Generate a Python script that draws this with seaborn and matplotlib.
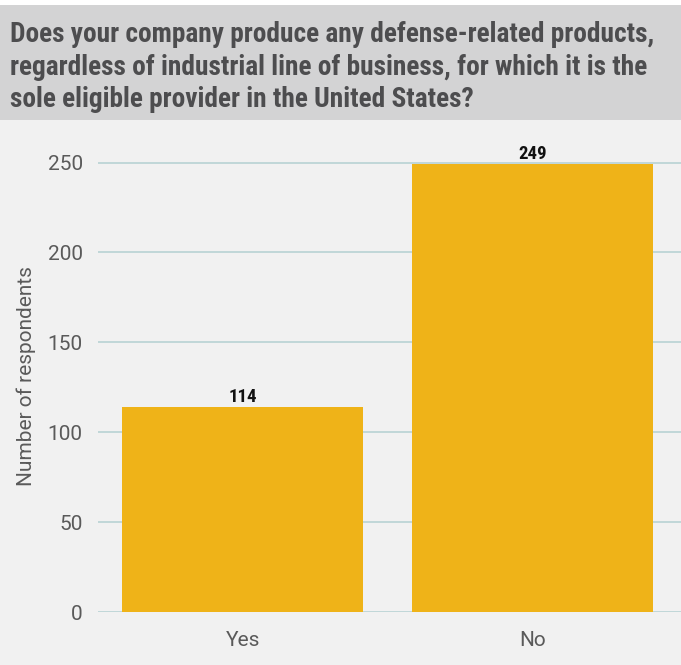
import matplotlib
matplotlib.use("Agg")
import matplotlib.pyplot as plt
import matplotlib.patches as mpatches
import seaborn as sns
import pandas as pd

# Survey responses
answers = ["Yes", "No"]
respondents = [114, 249]
y_ticks = [0, 50, 100, 150, 200, 250]
question = ("Does your company produce any defense-related products,\n"
            "regardless of industrial line of business, for which it is the\n"
            "sole eligible provider in the United States?")

bg = "#f1f1f1"
band = "#d3d3d4"
bar_color = "#efb318"
grid_color = "#bcd5d6"
text_color = "#5a5a5a"
condensed = ["Roboto Condensed", "DejaVu Sans"]
body = ["Roboto", "DejaVu Sans"]

sns.set_theme(style="white")
plt.rcParams["font.family"] = body

fig = plt.figure(figsize=(6.81, 6.65), dpi=100)
fig.patch.set_facecolor(bg)

# Header band with the question
fig.patches.append(mpatches.Rectangle((0, 665 - 120), 681, 115, transform=None,
                                      facecolor=band, edgecolor="none", zorder=0))
fig.patches.append(mpatches.Rectangle((0, 660), 681, 5, transform=None,
                                      facecolor="white", edgecolor="none", zorder=0))
fig.text(10 / 681, 1 - 21 / 665, question, ha="left", va="top", fontsize=19.7,
         fontweight="bold", family=condensed, color="#4d4d4f",
         linespacing=1.27)

ax = fig.add_axes([98 / 681, (665 - 612) / 665, 583 / 681, (612 - 141) / 665])
ax.set_facecolor(bg)

df = pd.DataFrame({"answer": answers, "count": respondents})
sns.barplot(data=df, x="answer", y="count", color=bar_color, width=0.834,
            saturation=1, linewidth=0, ax=ax, zorder=3)

ax.set_xlim(-0.5, 1.514)
ax.set_ylim(0, 262)
ax.set_yticks(y_ticks)
ax.yaxis.grid(True, color=grid_color, linewidth=1.3, zorder=0)
ax.xaxis.grid(False)
for s in ax.spines.values():
    s.set_visible(False)
ax.tick_params(axis="both", length=0, labelsize=15, labelcolor=text_color)
ax.tick_params(axis="y", pad=11)
ax.tick_params(axis="x", pad=14)
ax.set_xlabel("")
ax.set_ylabel("Number of respondents", fontsize=15, color=text_color,
              labelpad=8)

for i, v in enumerate(respondents):
    ax.text(i, v + 0.8, str(v), ha="center", va="bottom", fontsize=13.5,
            fontweight="bold", family=condensed, color="#111111")

fig.savefig("out.png", dpi=100, facecolor=fig.get_facecolor())
